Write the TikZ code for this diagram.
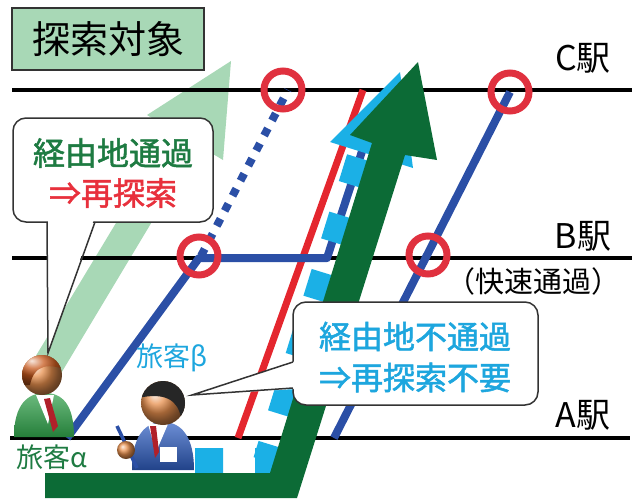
\documentclass[tikz,border=0pt]{standalone}
\usepackage{fontspec}
\setmainfont{Noto Sans CJK JP}
\newfontfamily\notefont{Noto Sans CJK JP}[FakeBold=1.6]
\definecolor{trainblue}{HTML}{2B4FA6}
\definecolor{trainred}{HTML}{E4262E}
\definecolor{ringred}{HTML}{E0313F}
\definecolor{paleroute}{HTML}{A8D8B6}
\definecolor{routegreen}{HTML}{0C6B36}
\definecolor{routecyan}{HTML}{1BB0E6}
\definecolor{viagreen}{HTML}{1E7B42}
\definecolor{alertred}{HTML}{E8303C}
\definecolor{notecyan}{HTML}{1DA6DE}
\definecolor{skin}{HTML}{E8904E}
\definecolor{hairbrown}{HTML}{C85A1E}
\definecolor{jacketgreen}{HTML}{2E9E48}
\definecolor{jacketblue}{HTML}{2F5FC4}
\definecolor{tiered}{HTML}{B0202A}
\begin{document}
\begin{tikzpicture}[x=1pt,y=-1pt,
   track/.style={line width=4pt,black},
   train/.style={line width=8pt,trainblue},
   ring/.style={line width=7pt,ringred},
   bubble/.style={draw=black!80,line width=1.5pt,fill=white},
   station/.style={font=\fontsize{34}{34}\selectfont},
   note/.style={font=\notefont\fontsize{32}{40}\selectfont,align=center},
   who/.style={font=\fontsize{27}{27}\selectfont},
]
\useasboundingbox (0,0) rectangle (642,498);

% pale search arrow
\fill[paleroute] (31,364) -- (172,130) -- (147,115) -- (231,61) -- (223,160) -- (198,145) -- (57,380) -- cycle;

% stations
\draw[track] (12,90) -- (632,90);
\draw[track] (12,258) -- (632,258);
\draw[track] (10,438) -- (630,438);

% trains
\draw[line width=7pt,trainred] (238,438) -- (363,90);
\draw[train,line join=round] (67,438) -- (199,258) -- (327,258) -- (369,130);
\draw[train,dash pattern=on 8pt off 9pt] (201,256) -- (288,90);
\draw[train] (334,438) -- (510,92);

% passenger routes
\draw[line width=26pt,routecyan,dash pattern=on 28pt off 32pt] (195,461) -- (266,461) -- (362,150);
\fill[routecyan] (330,142) -- (400,72) -- (413,168) -- cycle;
\fill[routegreen] (45,473) -- (270,473) -- (372,143) -- (350,135) -- (418,62) -- (437,160) -- (405,155) -- (297,498) -- (45,498) -- cycle;

% check points
\foreach \x/\y in {283/90,199/256,428/255,510/92}
  \draw[ring] (\x,\y) circle[radius=19pt];

% callouts
\draw[bubble,rounded corners=13pt] (13,118) rectangle (213,222);
\fill[white] (48,219) -- (48,353) -- (94,219) -- cycle;
\draw[black!80,line width=1.5pt] (47,222) -- (48,353) -- (95,222);
\node[note] (research) at (113,173) {\color{viagreen}経由地通過\\\color{alertred}⇒再探索};

\draw[bubble,rounded corners=13pt] (293,302) rectangle (538,405);
\fill[white] (296,361) -- (192,395) -- (296,389) -- cycle;
\draw[black!80,line width=1.5pt] (293,362) -- (192,395) -- (293,388);
\node[note,text=notecyan,font=\notefont\fontsize{32}{41}\selectfont] (noresearch) at (415,357) {経由地不通過\\⇒再探索不要};

% title
\draw[fill=paleroute,draw=black!80,line width=1.5pt] (12,8) rectangle (204,70);
\node[font=\fontsize{38}{38}\selectfont] (target) at (108,39) {探索対象};

% station names
\node[station] (stC) at (583,58) {C駅};
\node[station] (stB) at (583,236) {B駅};
\node[font=\fontsize{29}{29}\selectfont] (rapid) at (533,281) {（快速通過）};
\node[station] (stA) at (583,415) {A駅};

\node[who,text=notecyan] (beta) at (172,358) {旅客β};
\node[who,text=viagreen] (alpha) at (52,457) {旅客α};

% passenger alpha
\shade[top color=jacketgreen!70!white,bottom color=jacketgreen!80!black] (14,437) .. controls (14,404) and (28,393) .. (45,393) .. controls (62,393) and (74,404) .. (74,437) -- cycle;
\fill[white] (36,395) -- (54,395) -- (48,424) -- cycle;
\fill[tiered] (44,399) -- (50,398) -- (58,426) -- (53,432) -- cycle;
\shade[ball color=skin] (42,375) circle[radius=20pt];
\begin{scope}
  \clip (42,375) circle[radius=20pt];
  \shade[ball color=hairbrown] (15,350) -- (70,350) -- (70,372) .. controls (50,362) and (34,364) .. (30,385) -- (15,385) -- cycle;
\end{scope}

% passenger beta
\shade[top color=jacketblue!70!white,bottom color=jacketblue!70!black] (132,470) .. controls (132,436) and (145,422) .. (163,422) .. controls (181,422) and (194,436) .. (194,470) -- cycle;
\fill[white] (148,424) -- (168,424) -- (156,452) -- cycle;
\fill[tiered] (150,426) -- (156,426) -- (159,452) -- (155,458) -- cycle;
\fill[white] (160,447) rectangle (177,462);
\shade[ball color=skin] (163,403) circle[radius=22pt];
\begin{scope}
  \clip (163,403) circle[radius=22pt];
  \fill[black!85] (138,378) -- (190,378) -- (190,418) -- (181,418) .. controls (178,400) and (165,392) .. (138,398) -- cycle;
\end{scope}
\draw[line width=3.5pt,trainblue] (117,426) -- (137,468);
\shade[ball color=skin] (126,450) circle[radius=9pt];

\end{tikzpicture}
\end{document}
